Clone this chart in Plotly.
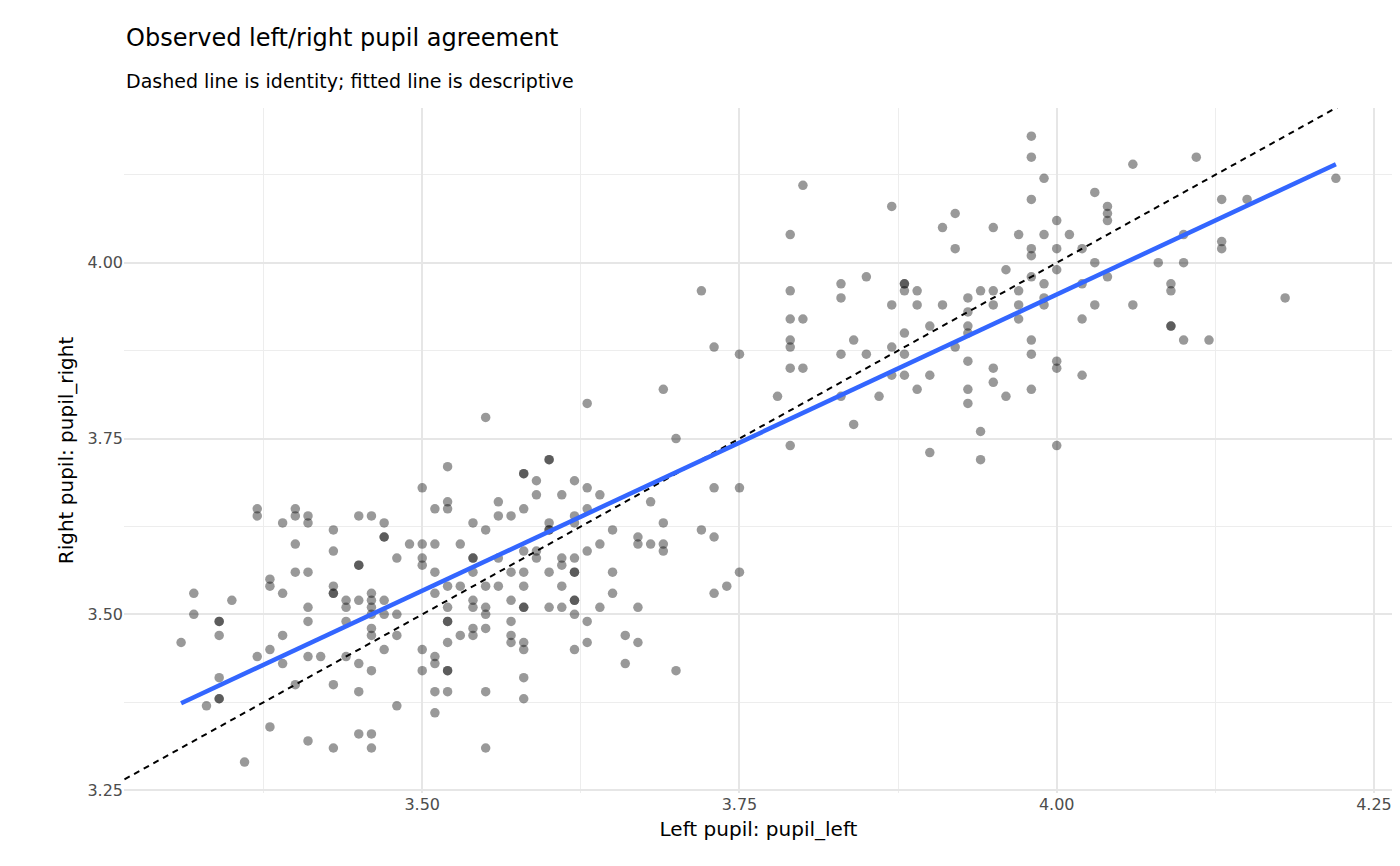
import numpy as np
import plotly.graph_objects as go

pupil_left = [3.98,3.98,4.11,4.06,4.22,3.80,3.99,4.03,3.98,3.87,4.13,4.15,3.92,4.04,4.04,4.04,4.00,4.01,3.91,3.95,3.79,3.97,3.99,4.10,4.13,4.13,3.92,3.98,4.00,4.02,3.98,4.03,4.10,4.08,4.00,3.96,4.04,3.98,3.99,3.83,3.85,3.72,3.88,3.88,3.88,3.89,3.94,3.95,3.97,3.79,3.93,4.09,4.02,4.09,3.99,4.18,3.83,3.87,3.91,3.89,3.97,3.99,4.06,4.03,3.95,3.93,3.97,4.02,3.93,3.90,3.80,3.79,4.09,4.09,3.98,3.88,3.93,4.10,4.12,3.84,3.79,3.92,3.85,3.87,3.73,3.79,3.98,3.83,3.88,3.75,3.93,4.00,4.00,3.95,3.80,3.79,3.87,3.88,3.90,4.02,3.95,3.69,3.98,3.89,3.93,3.83,3.86,3.78,3.96,3.93,3.63,3.84,3.94,3.70,3.79,4.00,3.90,3.94,3.55,
3.60,3.60,3.52,3.58,3.58,3.62,3.59,3.50,3.63,3.73,3.75,3.59,3.61,3.64,3.52,3.56,3.68,3.63,3.52,3.51,3.58,3.56,3.57,3.37,3.37,3.40,3.40,3.46,3.45,3.41,3.54,3.62,3.69,3.47,3.39,3.41,3.60,3.62,3.72,3.55,3.60,3.43,3.60,3.65,3.67,3.47,3.73,3.47,3.64,3.67,3.68,3.69,3.49,3.50,3.51,3.53,3.40,3.69,3.43,3.48,3.50,3.54,3.54,3.58,3.59,3.63,3.61,3.56,3.51,3.59,3.62,3.45,3.45,3.50,3.62,3.58,3.61,3.57,3.62,3.40,3.41,3.65,3.60,3.75,3.54,
3.38,3.38,3.52,3.43,3.58,3.55,3.56,3.65,3.32,3.39,3.43,3.43,3.53,3.74,3.73,3.46,3.47,3.61,3.46,3.51,3.57,3.54,3.35,3.44,3.45,3.46,3.62,3.62,3.58,3.58,3.60,3.67,3.55,3.64,3.52,3.54,3.44,3.61,3.32,3.41,3.41,3.47,3.55,3.46,3.48,3.62,3.52,3.57,3.63,3.52,3.44,3.34,3.34,3.55,3.54,3.48,3.46,3.54,3.34,3.39,3.57,3.66,3.46,3.53,3.57,3.31,3.58,3.67,3.37,3.38,3.47,3.52,3.50,3.63,3.62,3.58,3.42,3.41,3.44,3.39,3.45,3.51,3.46,3.50,3.51,3.52,3.52,3.66,3.70,3.58,3.40,3.43,3.34,3.34,3.34,3.45,3.51,3.52,3.55,3.58,3.33,3.48,3.51,3.38,3.45,3.46,3.41,3.43,3.46,3.55,3.36]
pupil_right = [4.18,4.15,4.15,4.14,4.12,4.11,4.12,4.10,4.09,4.08,4.09,4.09,4.07,4.08,4.07,4.06,4.06,4.04,4.05,4.05,4.04,4.04,4.04,4.04,4.03,4.02,4.02,4.02,4.02,4.02,4.01,4.00,4.00,4.00,3.99,3.99,3.98,3.98,3.97,3.97,3.98,3.96,3.97,3.97,3.96,3.96,3.96,3.96,3.96,3.96,3.95,3.97,3.97,3.96,3.95,3.95,3.95,3.94,3.94,3.94,3.94,3.94,3.94,3.94,3.94,3.93,3.92,3.92,3.91,3.91,3.92,3.92,3.91,3.91,3.89,3.90,3.90,3.89,3.89,3.89,3.89,3.88,3.87,3.88,3.88,3.88,3.87,3.87,3.87,3.87,3.86,3.86,3.85,3.85,3.85,3.85,3.84,3.84,3.84,3.84,3.83,3.82,3.82,3.82,3.82,3.81,3.81,3.81,3.81,3.80,3.80,3.77,3.76,3.75,3.74,3.74,3.73,3.72,3.78,
3.72,3.72,3.71,3.70,3.70,3.69,3.69,3.68,3.68,3.68,3.68,3.67,3.67,3.67,3.66,3.66,3.66,3.65,3.65,3.65,3.65,3.64,3.64,3.65,3.64,3.65,3.64,3.64,3.64,3.64,3.63,3.64,3.63,3.63,3.63,3.63,3.63,3.63,3.62,3.62,3.62,3.62,3.62,3.62,3.61,3.61,3.61,3.61,3.60,3.60,3.60,3.60,3.60,3.60,3.60,3.60,3.60,3.59,3.59,3.58,3.58,3.58,3.58,3.59,3.59,3.59,3.58,3.58,3.56,3.58,3.58,3.57,3.57,3.57,3.56,3.56,3.57,3.56,3.56,3.56,3.56,3.56,3.56,3.56,3.56,
3.55,3.54,3.54,3.54,3.54,3.54,3.54,3.53,3.53,3.53,3.53,3.53,3.54,3.54,3.53,3.53,3.52,3.54,3.52,3.53,3.52,3.52,3.52,3.52,3.52,3.51,3.52,3.52,3.51,3.51,3.51,3.51,3.51,3.51,3.51,3.51,3.51,3.51,3.50,3.51,3.49,3.50,3.50,3.50,3.50,3.50,3.49,3.49,3.49,3.49,3.49,3.49,3.49,3.48,3.48,3.47,3.48,3.47,3.47,3.47,3.47,3.47,3.47,3.47,3.46,3.46,3.46,3.46,3.44,3.45,3.45,3.46,3.45,3.46,3.45,3.45,3.44,3.44,3.44,3.43,3.43,3.44,3.42,3.42,3.43,3.42,3.42,3.43,3.42,3.41,3.40,3.40,3.41,3.38,3.38,3.39,3.39,3.39,3.39,3.38,3.37,3.37,3.36,3.34,3.33,3.33,3.32,3.31,3.31,3.31,3.29]

x = np.array(pupil_left); y = np.array(pupil_right)
slope, intercept = np.polyfit(x, y, 1)
fx = np.array([x.min(), x.max()])

fig = go.Figure()
fig.add_trace(go.Scatter(x=[3.0, 4.5], y=[3.0, 4.5], mode="lines",
                         line=dict(color="black", width=2, dash="6px,5px"), hoverinfo="skip"))
fig.add_trace(go.Scatter(x=x, y=y, mode="markers",
                         marker=dict(color="rgba(0,0,0,0.4)", size=9.5, line=dict(width=0))))
fig.add_trace(go.Scatter(x=fx, y=intercept + slope * fx, mode="lines",
                         line=dict(color="#3366FF", width=4.5)))

ax = dict(showline=False, zeroline=False, gridcolor="#E6E6E6", gridwidth=1.8,
          ticks="", tickfont=dict(size=16, color="#4D4D4D"),
          minor=dict(showgrid=True, gridcolor="#EDEDED", gridwidth=1))
fig.update_layout(
    width=1400, height=866, plot_bgcolor="white", paper_bgcolor="white",
    showlegend=False, font=dict(family="DejaVu Sans"),
    margin=dict(l=116, r=15, t=100, b=81),
    annotations=[
        dict(text="Observed left/right pupil agreement", xref="paper", yref="paper", x=0, y=1,
             xanchor="left", yanchor="bottom", yshift=54, showarrow=False,
             font=dict(size=24, color="black")),
        dict(text="Dashed line is identity; fitted line is descriptive", xref="paper", yref="paper",
             x=0, y=1, xanchor="left", yanchor="bottom", yshift=14, showarrow=False,
             font=dict(size=19, color="black")),
    ],
    xaxis=dict(ax, range=[3.265, 4.265], tickvals=[3.5, 3.75, 4.0, 4.25], ticktext=["3.50", "3.75", "4.00", "4.25"],
               minor=dict(ax["minor"], tickvals=[3.375, 3.625, 3.875, 4.125]),
               title=dict(text="Left pupil: pupil_left", font=dict(size=20, color="black"), standoff=8)),
    yaxis=dict(ax, range=[3.246, 4.22], tickvals=[3.25, 3.5, 3.75, 4.0], ticktext=["3.25", "3.50", "3.75", "4.00"],
               minor=dict(ax["minor"], tickvals=[3.375, 3.625, 3.875, 4.125]),
               title=dict(text="Right pupil: pupil_right", font=dict(size=20, color="black"), standoff=8)),
)
fig.write_html("out.html")
